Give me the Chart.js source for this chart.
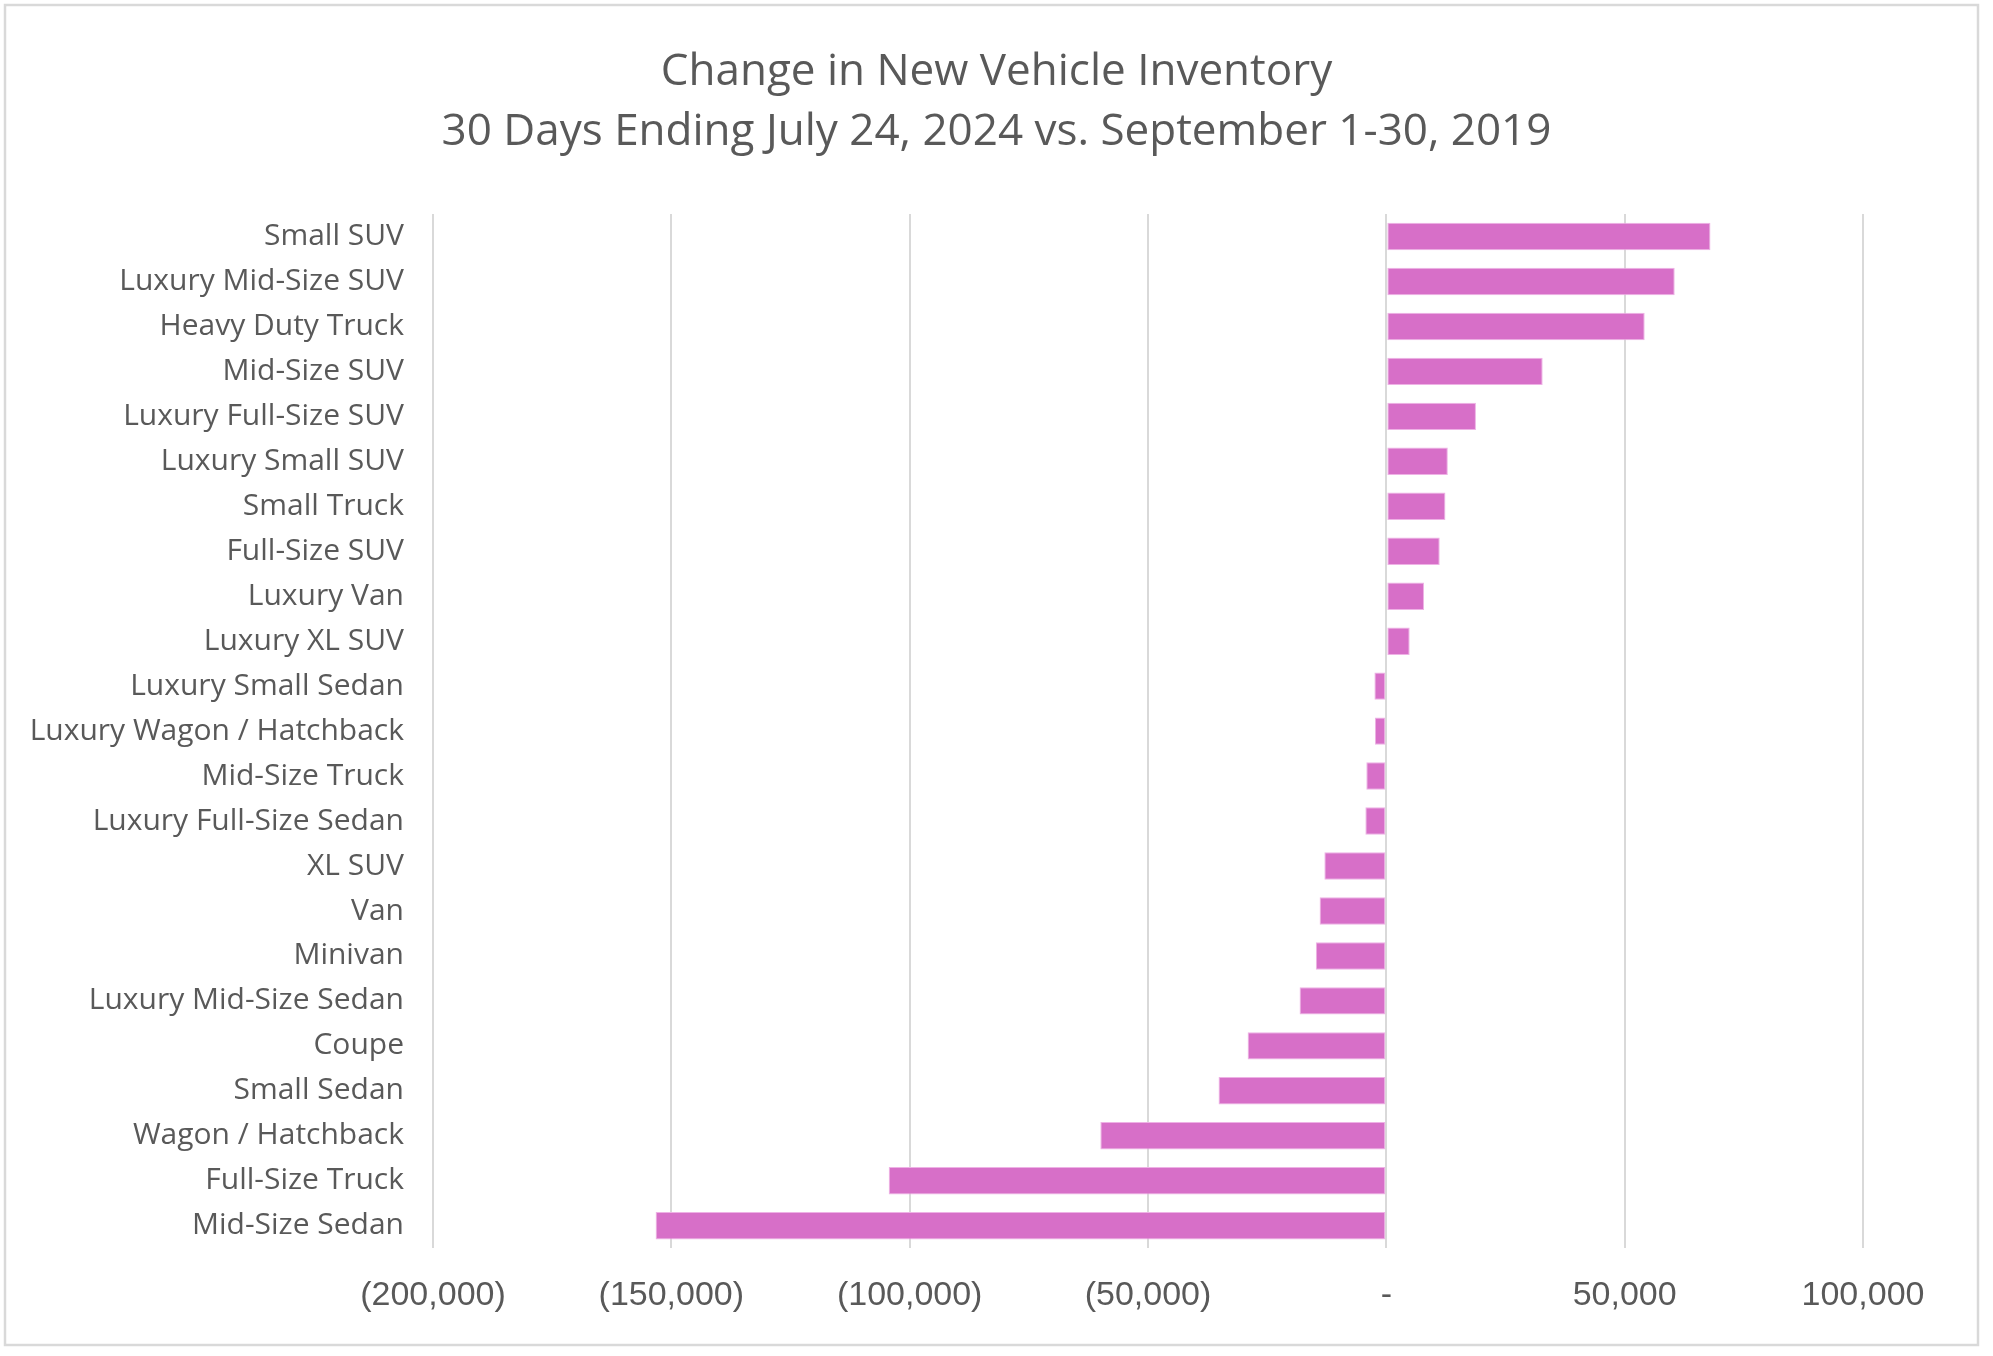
<!DOCTYPE html>
<html>
<head>
<meta charset="utf-8">
<script src="https://cdn.jsdelivr.net/npm/chart.js@4/dist/chart.umd.min.js"></script>
<style>
  html, body { margin: 0; padding: 0; background: #ffffff; }
  #wrap { width: 1993px; height: 1356px; position: relative; }
</style>
</head>
<body>
<div id="wrap"><canvas id="c" width="1993" height="1356"></canvas></div>
<script>
const titleLines = ["Change in New Vehicle Inventory", "30 Days Ending July 24, 2024 vs. September 1-30, 2019"];
const categories = [
  "Small SUV", "Luxury Mid-Size SUV", "Heavy Duty Truck", "Mid-Size SUV", "Luxury Full-Size SUV",
  "Luxury Small SUV", "Small Truck", "Full-Size SUV", "Luxury Van", "Luxury XL SUV",
  "Luxury Small Sedan", "Luxury Wagon / Hatchback", "Mid-Size Truck", "Luxury Full-Size Sedan",
  "XL SUV", "Van", "Minivan", "Luxury Mid-Size Sedan", "Coupe", "Small Sedan",
  "Wagon / Hatchback", "Full-Size Truck", "Mid-Size Sedan"
];
const inventoryChange = [
  68000, 60500, 54200, 32800, 18800,
  12900, 12400, 11200, 7900, 4900,
  -2500, -2400, -4200, -4400,
  -13000, -14000, -14800, -18200, -29100, -35200,
  -60000, -104400, -153300
];
const xTickValues = [-200000, -150000, -100000, -50000, 0, 50000, 100000];

const FONT = "'Open Sans'";
const TICKFONT = "'Liberation Sans', Arial, sans-serif";
const TEXT = "#595959";

const borderPlugin = {
  id: 'outerBorder',
  beforeDraw(chart) {
    const ctx = chart.ctx;
    ctx.save();
    ctx.fillStyle = '#ffffff';
    ctx.fillRect(0, 0, chart.width, chart.height);
    ctx.strokeStyle = '#d9d9d9';
    ctx.lineWidth = 2.5;
    ctx.strokeRect(5, 5, 1973, 1340);
    ctx.restore();
  }
};

function fmt(v) {
  if (v === 0) return "-";
  const s = Math.abs(v).toLocaleString('en-US');
  return v < 0 ? "(" + s + ")" : s;
}

new Chart(document.getElementById('c'), {
  type: 'bar',
  data: {
    labels: categories,
    datasets: [{
      data: inventoryChange,
      backgroundColor: '#D76FC8',
      borderColor: '#EEB2E5',
      borderWidth: 1,
      borderSkipped: false,
      barPercentage: 1.0,
      categoryPercentage: 0.61
    }]
  },
  options: {
    indexAxis: 'y',
    responsive: false,
    animation: false,
    devicePixelRatio: 1,
    layout: { padding: { left: 0, right: 0, top: 0, bottom: 13 } },
    plugins: {
      legend: { display: false },
      tooltip: { enabled: false },
      title: {
        display: true,
        text: titleLines,
        color: TEXT,
        font: { family: FONT, size: 44, weight: 'normal', lineHeight: 1.364 },
        padding: { top: 42, bottom: 52 }
      }
    },
    scales: {
      x: {
        min: -200000,
        max: 100000,
        afterBuildTicks(axis) { axis.ticks = xTickValues.map(v => ({ value: v })); },
        grid: { color: '#d9d9d9', lineWidth: 2, drawTicks: false },
        border: { display: false },
        ticks: {
          color: TEXT,
          font: { family: TICKFONT, size: 34 },
          padding: 27,
          maxRotation: 0,
          callback: (v) => fmt(v)
        }
      },
      y: {
        afterFit(axis) { axis.width = 433; },
        grid: { display: false, drawTicks: false },
        border: { display: false },
        ticks: {
          color: TEXT,
          font: { family: FONT, size: 30 },
          padding: 29,
          autoSkip: false
        }
      },
      spacer: {
        axis: 'y',
        position: 'right',
        afterFit(axis) { axis.width = 130; },
        grid: { display: false, drawTicks: false },
        border: { display: false },
        ticks: { display: false }
      }
    }
  },
  plugins: [borderPlugin]
});
</script>
</body>
</html>
